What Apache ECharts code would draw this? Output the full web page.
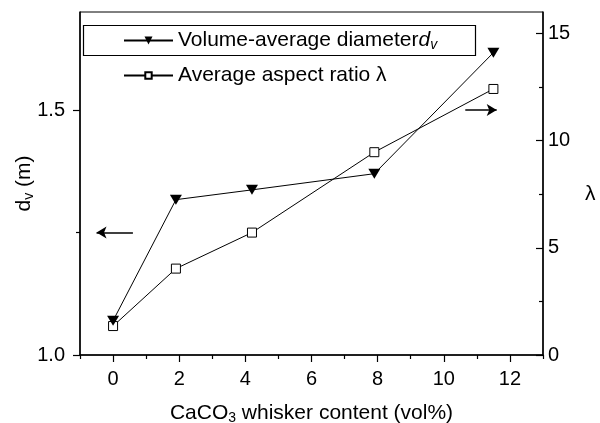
<!DOCTYPE html>
<html>
<head>
<meta charset="UTF-8">
<title>dv and aspect ratio vs CaCO3 content</title>
<script src="https://cdn.jsdelivr.net/npm/echarts@6/dist/echarts.min.js"></script>
<style>
    body, html { margin: 0; padding: 0; background: #fff; }
    #main { width: 600px; height: 423px; }
</style>
</head>
<body>
<div id="main"></div>
<script>
    // values
    const xContent = [0, 1.9, 4.2, 7.9, 11.5];
    const diameter = [1.07, 1.317, 1.337, 1.37, 1.617];
    const aspect = [1.35, 4.03, 5.71, 9.46, 12.41];

    const xLabels = [0, 2, 4, 6, 8, 10, 12];
    const xMinor = [-1, 1, 3, 5, 7, 9, 11, 13];
    const leftLabels = [1.0, 1.5];
    const leftMinor = [1.25];
    const rightLabels = [0, 5, 10, 15];
    const rightMinor = [2.5, 7.5, 12.5];

    // arrows pointing at the axis each curve belongs to
    const leftArrow = [[0.6, 1.25], [-0.5, 1.25]];
    const rightArrow = [[10.65, 1.5], [11.6, 1.5]];

    const font = 'Liberation Sans';
    const black = '#000';
    const sub = { fontSize: 14, fontFamily: font, color: black, padding: [9, 0, 0, 0] };

    var chart = echarts.init(document.getElementById('main'));

    function minorAxis(min, max, pos, ticks, len, inside) {
        return {
            type: 'value', min: min, max: max, position: pos,
            axisLine: { show: false, onZero: false },
            axisTick: { show: true, customValues: ticks, length: len, inside: inside,
                lineStyle: { color: black, width: 1.2 } },
            axisLabel: { show: false },
            splitLine: { show: false }
        };
    }

    var option = {
        animation: false,
        grid: { left: 80, right: 57, top: 12, bottom: 68, outerBoundsMode: 'none',
            show: true, borderColor: black, borderWidth: 1 },
        legend: [
            {
                data: ['Volume-average diameter'],
                left: 118, top: 25, itemWidth: 49, itemHeight: 10, itemGap: 0,
                selectedMode: false,
                formatter: function () { return '{a|Volume-average diameter}{i|d}{s|v}'; },
                textStyle: {
                    fontSize: 21, fontFamily: font, color: black,
                    rich: {
                        a: { fontSize: 21, fontFamily: font, color: black },
                        i: { fontSize: 21, fontFamily: font, color: black, fontStyle: 'italic' },
                        s: Object.assign({}, sub, { fontStyle: 'italic' })
                    }
                }
            },
            {
                data: ['Average aspect ratio'],
                left: 118, top: 60, itemWidth: 49, itemHeight: 8, itemGap: 0,
                selectedMode: false,
                formatter: function () { return 'Average aspect ratio λ'; },
                textStyle: { fontSize: 21, fontFamily: font, color: black }
            }
        ],
        graphic: [
            {
                type: 'rect', left: 81, top: 23, z: 100, silent: true,
                shape: { width: 392, height: 30 },
                style: { fill: 'none', stroke: black, lineWidth: 1.2 }
            }
        ],
        xAxis: [
            {
                type: 'value', min: -1, max: 13,
                name: 'CaCO{s|3} whisker content (vol%)',
                nameLocation: 'middle', nameGap: 47, nameMoveOverlap: false,
                nameTextStyle: { fontSize: 21, fontFamily: font, color: black, rich: { s: sub } },
                axisLine: { onZero: false, lineStyle: { color: black, width: 1.5 } },
                axisTick: { customValues: xLabels, length: 7, lineStyle: { color: black, width: 1.2 } },
                axisLabel: { customValues: xLabels, margin: 14, fontSize: 20, fontFamily: font, color: black },
                splitLine: { show: false }
            },
            minorAxis(-1, 13, 'bottom', xMinor, 4, false)
        ],
        yAxis: [
            {
                type: 'value', min: 1.0, max: 1.7, position: 'left',
                name: 'd{s|v} (m)',
                nameLocation: 'middle', nameGap: 44, nameMoveOverlap: false,
                nameTextStyle: { fontSize: 21, fontFamily: font, color: black, rich: { s: sub } },
                axisLine: { show: true, onZero: false, lineStyle: { color: black, width: 1.5 } },
                axisTick: { show: true, customValues: leftLabels, length: 7, lineStyle: { color: black, width: 1.2 } },
                axisLabel: { customValues: leftLabels, margin: 15, fontSize: 20, fontFamily: font, color: black,
                    formatter: function (v) { return v.toFixed(1); } },
                splitLine: { show: false }
            },
            {
                type: 'value', min: 0, max: 16, position: 'right',
                name: 'λ', nameLocation: 'middle', nameGap: 42, nameRotate: 0, nameMoveOverlap: false,
                nameTextStyle: { fontSize: 21, fontFamily: font, color: black, verticalAlign: 'top' },
                axisLine: { show: true, onZero: false, lineStyle: { color: black, width: 1.5 } },
                axisTick: { show: true, inside: true, customValues: rightLabels, length: 7, lineStyle: { color: black, width: 1.2 } },
                axisLabel: { customValues: rightLabels, margin: 5, fontSize: 20, fontFamily: font, color: black },
                splitLine: { show: false }
            },
            minorAxis(1.0, 1.7, 'left', leftMinor, 4, false),
            minorAxis(0, 16, 'right', rightMinor, 4, true)
        ],
        series: [
            {
                name: 'Volume-average diameter',
                type: 'line', xAxisIndex: 0, yAxisIndex: 0,
                data: xContent.map(function (x, i) { return [x, diameter[i]]; }),
                symbol: 'triangle', symbolRotate: 180, symbolSize: [12, 10],
                itemStyle: { color: black },
                lineStyle: { color: black, width: 1 },
                markLine: {
                    silent: true, symbol: ['none', 'arrow'], symbolSize: [9, 10],
                    label: { show: false },
                    lineStyle: { color: black, width: 1.5, type: 'solid' },
                    data: [
                        [{ coord: leftArrow[0] }, { coord: leftArrow[1] }],
                        [{ coord: rightArrow[0] }, { coord: rightArrow[1] }]
                    ]
                },
                z: 3
            },
            {
                name: 'Average aspect ratio',
                type: 'line', xAxisIndex: 0, yAxisIndex: 1,
                data: xContent.map(function (x, i) { return [x, aspect[i]]; }),
                symbol: 'rect', symbolSize: 9,
                itemStyle: { color: '#fff', borderColor: black, borderWidth: 1 },
                lineStyle: { color: black, width: 1 },
                z: 2
            }
        ]
    };

    chart.setOption(option);
</script>
</body>
</html>
